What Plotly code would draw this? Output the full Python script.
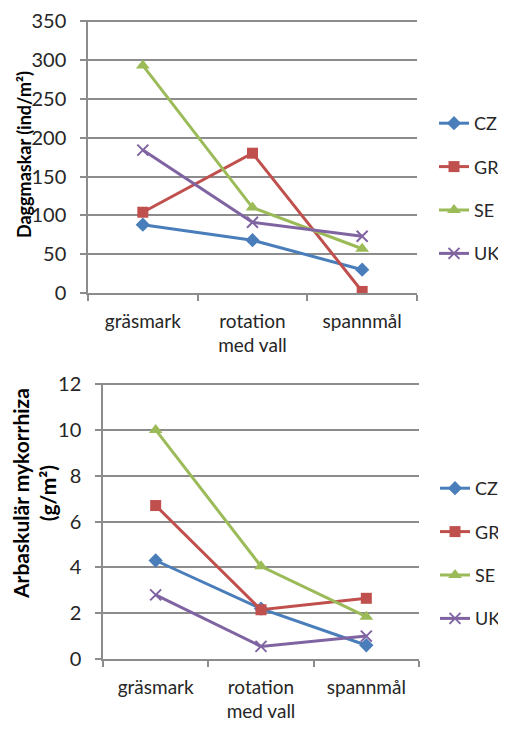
import plotly.graph_objects as go

categories = ["gräsmark", "rotation<br>med vall", "spannmål"]
series = ["CZ", "GR", "SE", "UK"]

# Top chart: Daggmaskar (ind/m²)
worms_CZ = [88, 68, 30]
worms_GR = [104, 180, 2]
worms_SE = [293, 110, 57]
worms_UK = [184, 91, 73]

# Bottom chart: Arbaskulär mykorrhiza (g/m²)
amf_CZ = [4.3, 2.2, 0.6]
amf_GR = [6.7, 2.15, 2.65]
amf_SE = [10.0, 4.05, 1.85]
amf_UK = [2.8, 0.55, 1.0]

top_ticks = [0, 50, 100, 150, 200, 250, 300, 350]
bottom_ticks = [0, 2, 4, 6, 8, 10, 12]

colors = {"CZ": "#4A7EBB", "GR": "#C0504D", "SE": "#9BBB59", "UK": "#8064A2"}
markers = {
    "CZ": dict(symbol="diamond", size=11),
    "GR": dict(symbol="square", size=11),
    "SE": dict(symbol="triangle-up", size=12),
    "UK": dict(symbol="x-thin-open", size=11),
}

# page body has an 8px default margin
OFF = 8
W, H = 506 - OFF, 731 - OFF
FONT = "Lato, 'Open Sans', sans-serif"
TEXT = "#262626"

top_data = {"CZ": worms_CZ, "GR": worms_GR, "SE": worms_SE, "UK": worms_UK}
bot_data = {"CZ": amf_CZ, "GR": amf_GR, "SE": amf_SE, "UK": amf_UK}

fig = go.Figure()
for s in series:
    m = dict(markers[s], color=colors[s])
    if s == "UK":
        m["line"] = dict(color=colors[s], width=2)
    fig.add_trace(go.Scatter(
        x=categories, y=top_data[s], name=s, mode="lines+markers",
        line=dict(color=colors[s], width=3), marker=m,
        xaxis="x", yaxis="y", legend="legend", legendgroup=s + "1"))
for s in series:
    m = dict(markers[s], color=colors[s])
    if s == "UK":
        m["line"] = dict(color=colors[s], width=2)
    fig.add_trace(go.Scatter(
        x=categories, y=bot_data[s], name=s, mode="lines+markers",
        line=dict(color=colors[s], width=3), marker=m,
        xaxis="x2", yaxis="y2", legend="legend2", legendgroup=s + "2"))

def px(x):
    return (x - OFF) / W

def py(y):
    return 1 - (y - OFF) / H

xcommon = dict(
    type="category", tickson="boundaries", ticks="outside", ticklen=6,
    tickcolor="#8C8C8C", tickwidth=1.5, showgrid=False, showline=True,
    linecolor="#8C8C8C", linewidth=1.5, range=[-0.5, 2.5], automargin=False,
    tickfont=dict(family=FONT, size=19, color=TEXT), ticklabelstandoff=10,
)
ycommon = dict(
    ticks="outside", ticklen=6, tickcolor="#8C8C8C", tickwidth=1.5,
    showgrid=True, gridcolor="#8C8C8C", gridwidth=1.8, showline=True,
    linecolor="#8C8C8C", linewidth=1.5, zeroline=False, automargin=False,
    tickfont=dict(family=FONT, size=20, color=TEXT), ticklabelstandoff=10,
    ticklabeloverflow="allow",
)

fig.update_layout(
    width=W, height=H,
    margin=dict(l=0, r=0, t=0, b=0, autoexpand=False),
    paper_bgcolor="white", plot_bgcolor="white",
    xaxis=dict(xcommon, domain=[px(88), px(417)], anchor="y"),
    yaxis=dict(ycommon, domain=[py(293), py(20)], range=[0, 351.5],
               tickvals=top_ticks, anchor="x"),
    xaxis2=dict(xcommon, domain=[px(103), px(419)], anchor="y2"),
    yaxis2=dict(ycommon, domain=[py(659), py(383)], range=[0, 12.05],
                tickvals=bottom_ticks, anchor="x2"),
    legend=dict(x=px(434), y=py(105), xanchor="left", yanchor="top",
                font=dict(family=FONT, size=18, color=TEXT),
                tracegroupgap=17, itemwidth=30, bgcolor="rgba(0,0,0,0)"),
    legend2=dict(x=px(435), y=py(470), xanchor="left", yanchor="top",
                 font=dict(family=FONT, size=18, color=TEXT),
                 tracegroupgap=17, itemwidth=30, bgcolor="rgba(0,0,0,0)"),
    annotations=[
        dict(text="<b>Daggmaskar (ind/m²)</b>", textangle=-90,
             x=px(24), y=py(155), xref="paper", yref="paper",
             showarrow=False, xanchor="center", yanchor="middle",
             font=dict(family=FONT, size=18, color="black")),
        dict(text="<b>Arbaskulär mykorrhiza<br>(g/m²)</b>", textangle=-90,
             x=px(34), y=py(494), xref="paper", yref="paper",
             showarrow=False, xanchor="center", yanchor="middle",
             font=dict(family=FONT, size=21, color="black")),
    ],
)

fig.write_html("out.html")
